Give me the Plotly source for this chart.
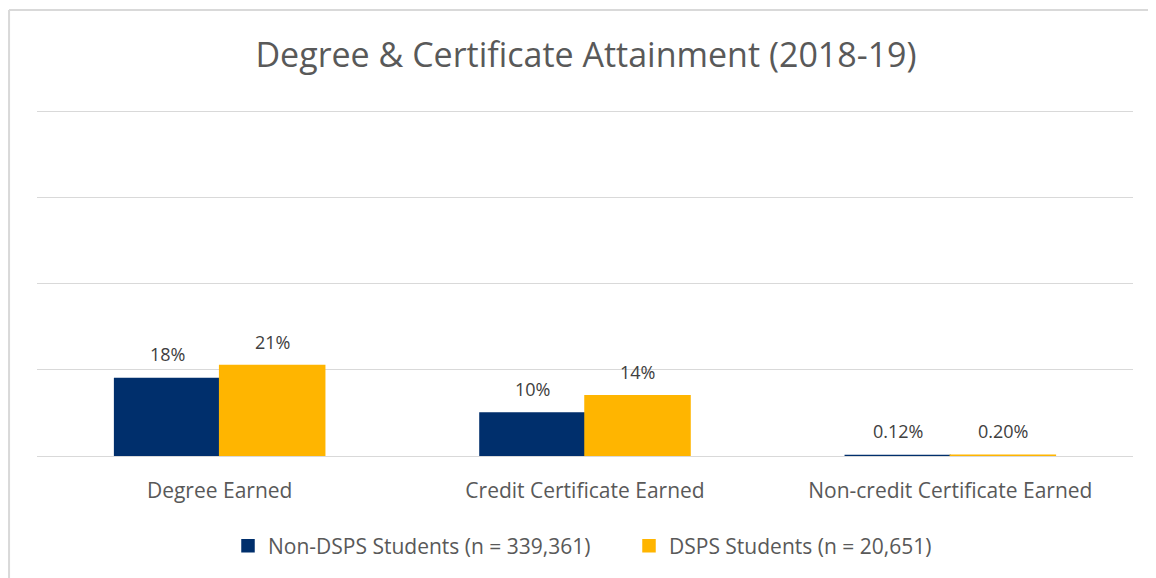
import plotly.graph_objects as go

categories = ["Degree Earned", "Credit Certificate Earned", "Non-credit Certificate Earned"]
series_names = ["Non-DSPS Students (n = 339,361)", "DSPS Students (n = 20,651)"]
non_dsps = [0.18, 0.10, 0.0012]
dsps = [0.21, 0.14, 0.0020]
non_dsps_labels = ["18%", "10%", "0.12%"]
dsps_labels = ["21%", "14%", "0.20%"]
colors = ["#002F6C", "#FFB500"]

FONT = "Open Sans, sans-serif"
W, H = 1156, 578
L, R, T, B = 29, 31, 99, 130
BARGAP = 0.425
plot_w = W - L - R
plot_h = H - T - B

fig = go.Figure()
for name, vals, col in [
    (series_names[0], non_dsps, colors[0]),
    (series_names[1], dsps, colors[1]),
]:
    fig.add_trace(go.Bar(
        x=categories, y=vals, name=name, marker_color=col,
        marker_line=dict(color=col, width=1.5),
        hoverinfo="skip",
    ))

# data labels centred over each bar of the group
bar_w = plot_w / len(categories) * (1 - BARGAP) / 2
annotations = []
for vals, labels, sign in [(non_dsps, non_dsps_labels, -1), (dsps, dsps_labels, 1)]:
    for c, v, lab in zip(categories, vals, labels):
        annotations.append(dict(
            x=c, y=v, xref="x", yref="y", text=lab, showarrow=False,
            xshift=sign * bar_w / 2, yshift=24, yanchor="middle",
            font=dict(family=FONT, size=18, color="#404040"),
        ))

top = 1 + 97 / plot_h
fig.update_layout(
    width=W, height=H,
    paper_bgcolor="white", plot_bgcolor="white",
    margin=dict(l=L, r=R, t=T, b=B),
    barmode="group", bargap=BARGAP, bargroupgap=0,
    title=dict(text="Degree & Certificate Attainment (2018-19)", x=0.5, xanchor="center",
               y=1 - 47 / H, yanchor="middle",
               font=dict(family=FONT, size=34, color="#595959")),
    legend=dict(orientation="h", x=(228 - 37) / plot_w, xanchor="left",
                y=-90 / plot_h, yanchor="middle",
                font=dict(family=FONT, size=21, color="#595959"), itemwidth=30,
                entrywidth=356, entrywidthmode="pixels",
                traceorder="normal"),
    xaxis=dict(showgrid=False, showline=False, ticks="outside", ticklen=16,
               tickcolor="rgba(0,0,0,0)",
               tickfont=dict(family=FONT, size=21, color="#595959")),
    yaxis=dict(range=[0, 0.81], dtick=0.2, showgrid=True, gridcolor="#D9D9D9",
               gridwidth=1, showticklabels=False, zeroline=True,
               zerolinecolor="#D9D9D9", zerolinewidth=1, showline=False),
    annotations=annotations,
    shapes=[
        dict(type="line", xref="paper", yref="paper", x0=-0.0255, x1=1.03,
             y0=top, y1=top, line=dict(color="#D9D9D9", width=2)),
        dict(type="line", xref="paper", yref="paper", x0=-0.0255, x1=-0.0255,
             y0=top, y1=-0.4, line=dict(color="#D9D9D9", width=2)),
    ],
)

fig.write_html("out.html")
